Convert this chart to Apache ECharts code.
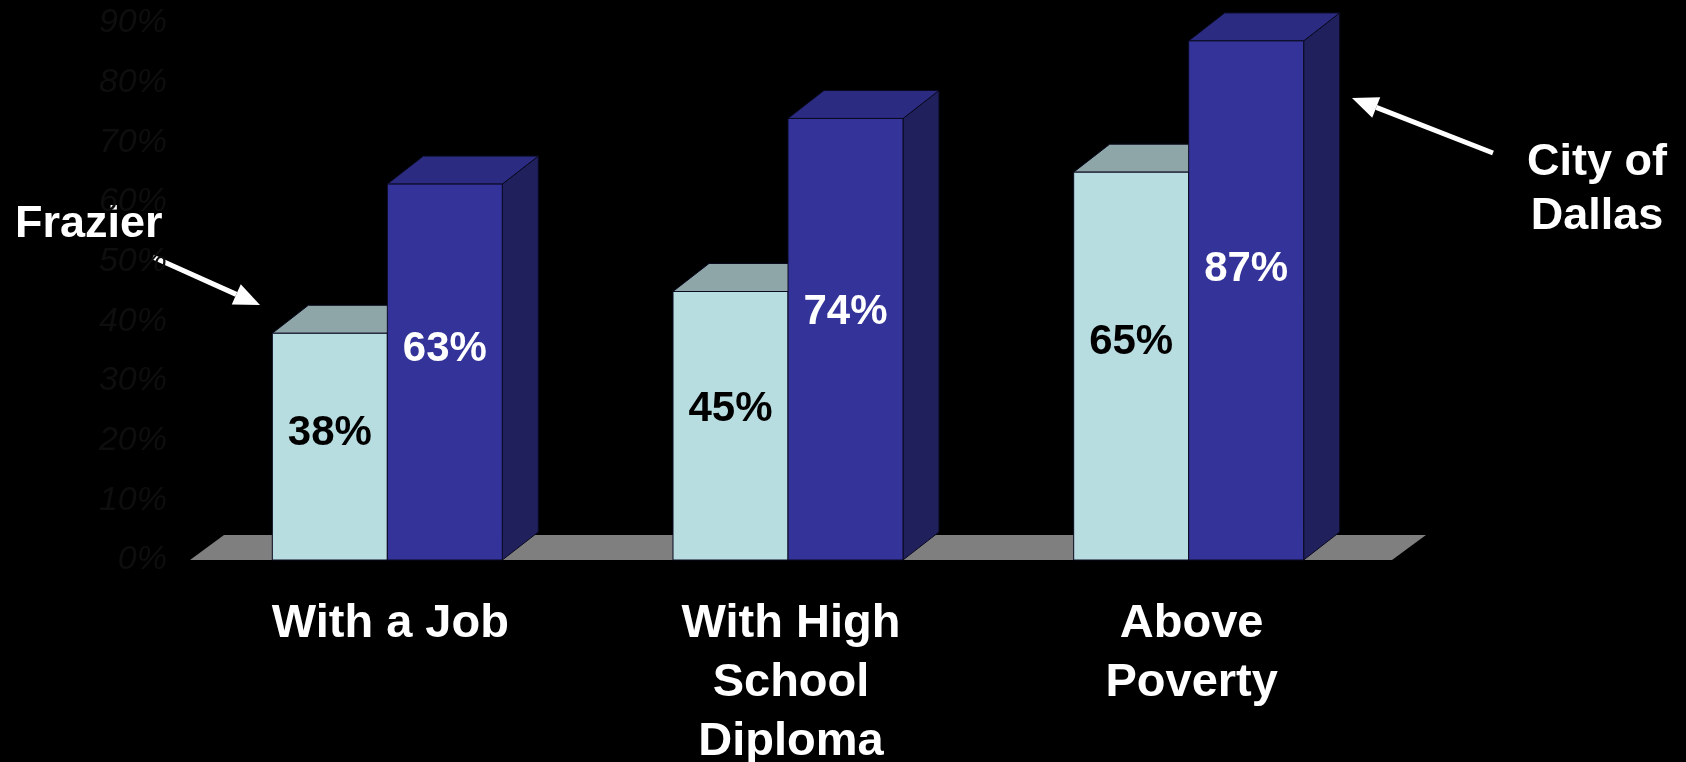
<!DOCTYPE html>
<html>
<head>
<meta charset="utf-8">
<script src="https://cdn.jsdelivr.net/npm/echarts@6/dist/echarts.min.js"></script>
<style>
html,body{margin:0;padding:0;background:#000;}
#chart{width:1686px;height:762px;}
</style>
</head>
<body>
<div id="chart"></div>
<script>
const categories = ['With a Job', 'With High\nSchool\nDiploma', 'Above\nPoverty'];
const frazierValues = [38, 45, 65];
const dallasValues = [63, 74, 87];
const seriesNames = ['Frazier', 'City of Dallas'];
const yMin = 0, yMax = 90, yStep = 10;

const FONT = '"Liberation Sans", Arial, sans-serif';
const DX = 36, DY = 28;

function barRenderer(side, front, topC, rightC, textColor) {
  return function (params, api) {
    const i = api.value(0), v = api.value(1);
    const top = api.coord([i, v]);
    const base = api.coord([i, 0]);
    const band = api.size([1, 0])[0];
    const w = band * 0.287;
    const x0 = side === 0 ? top[0] - w - 3 : top[0] - 3;
    const x1 = x0 + w;
    const yT = top[1], yB = base[1];
    return {
      type: 'group',
      children: [
        { type: 'polygon', shape: { points: [[x1, yT], [x1 + DX, yT - DY], [x1 + DX, yB - DY], [x1, yB]] },
          style: { fill: rightC, stroke: '#0a0a20', lineWidth: 1 } },
        { type: 'polygon', shape: { points: [[x0, yT], [x1, yT], [x1 + DX, yT - DY], [x0 + DX, yT - DY]] },
          style: { fill: topC, stroke: '#0a0a20', lineWidth: 1 } },
        { type: 'rect', shape: { x: x0, y: yT, width: w, height: yB - yT },
          style: { fill: front, stroke: '#0a0a20', lineWidth: 1 } },
        { type: 'text', style: { text: v + '%', x: x0 + w / 2, y: yT + 0.44 * (yB - yT),
          align: 'center', verticalAlign: 'middle', fill: textColor,
          font: 'bold 42px ' + FONT } }
      ]
    };
  };
}

function floorRenderer(params, api) {
  const cs = params.coordSys;
  const yb = cs.y + cs.height, xl = cs.x, xr = cs.x + cs.width;
  return {
    type: 'polygon',
    shape: { points: [[xl, yb], [xr, yb], [xr + 34, yb - 25], [xl + 34, yb - 25]] },
    style: { fill: '#7f7f7f' }
  };
}

// arrow helper for annotations
function arrow(tail, tip) {
  const vx = tip[0] - tail[0], vy = tip[1] - tail[1];
  const len = Math.hypot(vx, vy), ux = vx / len, uy = vy / len;
  const hl = 26, hw = 11;
  const bx = tip[0] - ux * hl, by = tip[1] - uy * hl;
  const nx = -uy, ny = ux;
  return [
    { type: 'line', shape: { x1: tail[0], y1: tail[1], x2: bx, y2: by },
      style: { stroke: '#ffffff', lineWidth: 5 } },
    { type: 'polygon', shape: { points: [[tip[0], tip[1]], [bx + nx * hw, by + ny * hw], [bx - nx * hw, by - ny * hw]] },
      style: { fill: '#ffffff' } }
  ];
}

const chart = echarts.init(document.getElementById('chart'));
chart.setOption({
  backgroundColor: '#000000',
  animation: false,
  grid: { left: 190, right: 294, top: 23, bottom: 202, containLabel: false, outerBoundsMode: 'none' },
  xAxis: {
    type: 'category',
    data: categories,
    axisLine: { show: false },
    axisTick: { show: false },
    axisLabel: { color: '#ffffff', fontFamily: FONT, fontWeight: 'bold', fontSize: 47, lineHeight: 59, margin: 35, interval: 0 }
  },
  yAxis: {
    type: 'value',
    min: yMin, max: yMax, interval: yStep,
    axisLine: { show: false },
    axisTick: { show: false },
    splitLine: { show: false },
    axisLabel: { formatter: '{value}%', color: '#0e0e0e', fontFamily: FONT, fontSize: 34, fontStyle: 'italic', margin: 23 }
  },
  series: [
    { type: 'custom', name: 'floor', silent: true, renderItem: floorRenderer, data: [[0, 0]], encode: { x: 0, y: 1 }, z: 1 },
    { type: 'custom', name: seriesNames[0], renderItem: barRenderer(0, '#b8dde1', '#8fa6a8', '#6f8789', '#000000'),
      data: frazierValues.map((v, i) => [i, v]), encode: { x: 0, y: 1 }, z: 2 },
    { type: 'custom', name: seriesNames[1], renderItem: barRenderer(1, '#333399', '#2b2b82', '#20205c', '#ffffff'),
      data: dallasValues.map((v, i) => [i, v]), encode: { x: 0, y: 1 }, z: 3 }
  ],
  graphic: [
    { type: 'text', left: 15, top: 202, style: { text: seriesNames[0], fill: '#ffffff', font: 'bold 45px ' + FONT } },
    { type: 'text', style: { text: 'City of\nDallas', x: 1597, y: 190, align: 'center', verticalAlign: 'middle',
      fill: '#ffffff', font: 'bold 45px ' + FONT, lineHeight: 54 } },
    ...arrow([153, 257], [260, 305]),
    ...arrow([1493, 153], [1352, 98])
  ]
});
</script>
</body>
</html>
